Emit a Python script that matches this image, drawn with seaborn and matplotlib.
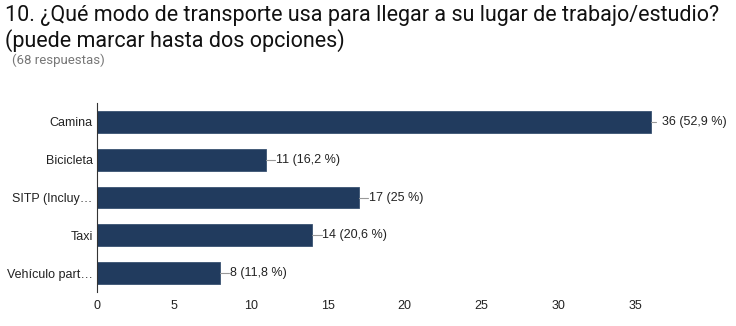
import matplotlib
matplotlib.use("Agg")
import matplotlib.pyplot as plt
import seaborn as sns
import pandas as pd

categories = ["Camina", "Bicicleta", "SITP (Incluy\u2026", "Taxi", "Veh\u00edculo part\u2026"]
counts = [36, 11, 17, 14, 8]
percents = ["52,9", "16,2", "25", "20,6", "11,8"]

df = pd.DataFrame({"modo": categories, "n": counts})

sns.set_theme(style="white")
plt.rcParams["font.family"] = ["Liberation Sans", "DejaVu Sans"]

fig = plt.figure(figsize=(7.36, 3.26), dpi=100)
ax = fig.add_axes([97 / 736, 1 - 292 / 326, (720 - 97) / 736, (292 - 103) / 326])

sns.barplot(data=df, y="modo", x="n", orient="h", color="#213b5e",
            width=0.58, edgecolor="#3a5272", linewidth=0.6, saturation=1, ax=ax)

# leader lines + labels
for i, (c, p) in enumerate(zip(counts, percents)):
    if c == max(counts):
        ax.plot([c, c + 0.35], [i, i], color="#999999", lw=0.8)
        x0 = c + 0.75
    else:
        ax.plot([c, c + 0.6], [i, i], color="#999999", lw=0.8)
        x0 = c + 0.65
    ax.text(x0, i, f"{c} ({p} %)", va="center", ha="left",
            fontsize=9, color="#222222")

ax.set_xlim(0, 40.5)
ax.set_ylim(4.5, -0.5)
ax.set_xticks(range(0, 36, 5))
ax.set_xlabel("")
ax.set_ylabel("")
for s in ["top", "right", "bottom"]:
    ax.spines[s].set_visible(False)
ax.spines["left"].set_color("#333333")
ax.spines["left"].set_linewidth(0.8)
ax.tick_params(axis="both", length=0, labelsize=9, colors="#222222")
ax.tick_params(axis="y", pad=3)
ax.tick_params(axis="x", pad=6)

fig.text(5 / 736, 1 - 15 / 326, "10. \u00bfQu\u00e9 modo de transporte usa para llegar a su lugar de trabajo/estudio?",
         family="Roboto", fontsize=15.5, color="#111111", va="center", ha="left")
fig.text(5 / 736, 1 - 41 / 326, "(puede marcar hasta dos opciones)",
         family="Roboto", fontsize=15.5, color="#111111", va="center", ha="left")
fig.text(12 / 736, 1 - 60 / 326, "(68 respuestas)",
         family="Roboto", fontsize=9.5, color="#777777", va="center", ha="left")

fig.savefig("out.png", dpi=100)
